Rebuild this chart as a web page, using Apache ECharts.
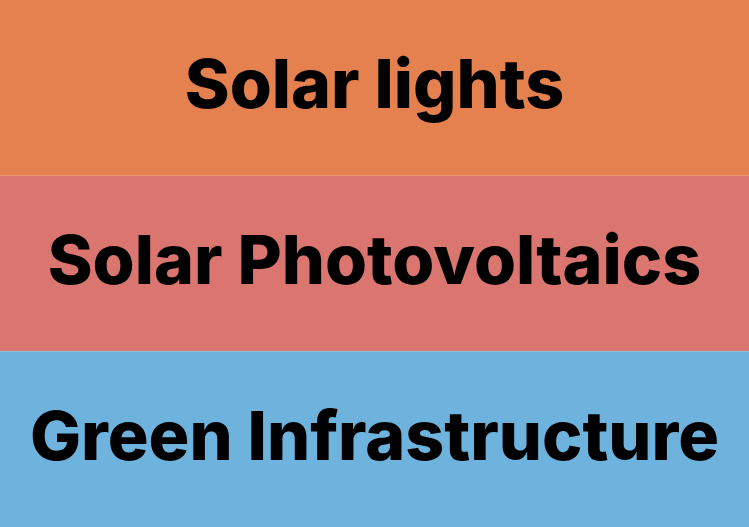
<!DOCTYPE html>
<html>
<head>
<meta charset="utf-8">
<script src="https://cdn.jsdelivr.net/npm/echarts@6/dist/echarts.min.js"></script>
<style>
html,body{margin:0;padding:0;background:#fff;}
#main{width:749px;height:527px;}
</style>
</head>
<body>
<div id="main"></div>
<script>
var categories = ["Solar lights", "Solar Photovoltaics", "Green Infrastructure"];
var values = [1, 1, 1];
var colors = ["#E5804F", "#DA7570", "#6DB3DD"];

var chart = echarts.init(document.getElementById('main'), null, {renderer: 'canvas'});
chart.setOption({
  animation: false,
  series: [{
    type: 'funnel',
    left: 0, top: 0, width: 749, height: 527,
    min: 0, max: 1, minSize: '100%', maxSize: '100%',
    sort: 'none', gap: 0,
    label: {
      show: true, position: 'inside', color: '#000',
      fontFamily: 'Inter', fontWeight: 800, fontSize: 68
    },
    labelLine: {show: false},
    itemStyle: {borderWidth: 0},
    emphasis: {disabled: true},
    data: categories.map(function (c, i) {
      return {name: c, value: values[i], itemStyle: {color: colors[i]}};
    })
  }]
});
</script>
</body>
</html>
